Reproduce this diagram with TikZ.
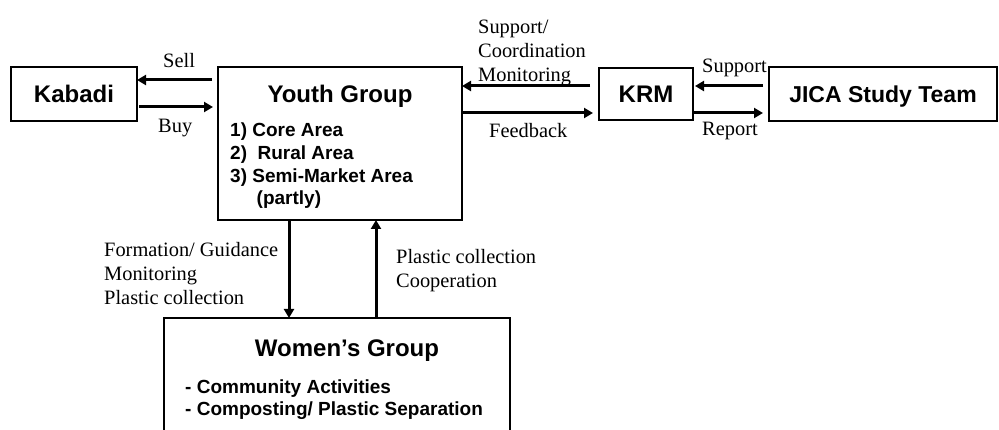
\documentclass[tikz,border=0pt]{standalone}
\usepackage{fontspec}
\setmainfont{Liberation Serif}
\setsansfont{Liberation Sans}
\usetikzlibrary{arrows.meta,calc}
\begin{document}
\begin{tikzpicture}[x=1pt,y=-1pt,
  box/.style={draw,line width=1.4pt,inner sep=0pt,outer sep=0pt,rectangle},
  flow/.style={line width=3pt,-{Triangle[length=9pt,width=10pt]}},
  lbl/.style={inner sep=0pt,anchor=base west,font=\fontsize{20.4}{24}\selectfont},
  title/.style={inner sep=0pt,anchor=base,font=\sffamily\bfseries\fontsize{24}{28}\selectfont},
  item/.style={inner sep=0pt,anchor=base west,font=\sffamily\bfseries\fontsize{19}{22}\selectfont}]
\useasboundingbox (0,0) rectangle (999,430);
\clip (0,0) rectangle (999,430);

% boxes
\node[box,minimum width=126pt,minimum height=54pt] (kabadi) at (74,94) {};
\node[box,minimum width=244pt,minimum height=153pt] (youth) at (340,143.5) {};
\node[box,minimum width=94pt,minimum height=52pt] (krm) at (646,94) {};
\node[box,minimum width=228pt,minimum height=54pt] (jica) at (883,94) {};
\node[box,minimum width=346pt,minimum height=127pt] (women) at (337,381.5) {};

% box texts
\node[title] (kabaditext) at (74,103) {Kabadi};
\node[title] (youthtext) at (340,103) {Youth Group};
\node[title] (krmtext) at (646,103) {KRM};
\node[title,font=\sffamily\bfseries\fontsize{23}{28}\selectfont] (jicatext) at (883,103) {JICA Study Team};
\node[title] (womentext) at (347,357) {Women’s Group};

\node[item] (area1) at (230,137) {1) Core Area};
\node[item] (area2) at (230,160) {2)\ \ Rural Area};
\node[item] (area3) at (230,182.5) {3) Semi-Market Area};
\node[item] (area4) at (256.5,205) {(partly)};
\node[item] (act1) at (185,393) {- Community Activities};
\node[item] (act2) at (185,415) {- Composting/ Plastic Separation};

% connectors
\coordinate (sellA) at ($(youth.north west)+(-6,13)$);
\draw[flow] (sellA) -- (sellA -| kabadi.east);
\coordinate (buyA) at ($(kabadi.north east)+(2,40)$);
\draw[flow] (buyA) -- ($(buyA -| youth.west)+(-5,0)$);
\coordinate (monA) at ($(krm.north west)+(-9,18)$);
\draw[flow] (monA) -- (monA -| youth.east);
\coordinate (fbA) at ($(youth.north east)+(0,46)$);
\draw[flow] (fbA) -- ($(fbA -| krm.west)+(-6,0)$);
\coordinate (supA) at ($(jica.north west)+(-6,19)$);
\draw[flow] (supA) -- ($(supA -| krm.east)+(2,0)$);
\coordinate (repA) at ($(krm.north east)+(0,45)$);
\draw[flow] (repA) -- ($(repA -| jica.west)+(-6,0)$);
\coordinate (dnA) at ($(youth.south west)+(71,0)$);
\draw[flow] (dnA) -- (dnA |- women.north);
\coordinate (upA) at ($(women.north west)+(212,0)$);
\draw[flow] (upA) -- (upA |- youth.south);

% connector labels
\node[lbl] (sell) at (163,68) {Sell};
\node[lbl] (buy) at (158,133) {Buy};
\node[lbl] (sup1) at (478,34) {Support/};
\node[lbl] (sup2) at (478,58) {Coordination};
\node[lbl] (sup3) at (478,82) {Monitoring};
\node[lbl] (feedback) at (489,138) {Feedback};
\node[lbl] (support) at (702,73) {Support};
\node[lbl] (report) at (702,136) {Report};
\node[lbl] (form1) at (104,257) {Formation/ Guidance};
\node[lbl] (form2) at (104,281) {Monitoring};
\node[lbl] (form3) at (104,305) {Plastic collection};
\node[lbl] (coop1) at (396,264) {Plastic collection};
\node[lbl] (coop2) at (396,288) {Cooperation};
\end{tikzpicture}
\end{document}
